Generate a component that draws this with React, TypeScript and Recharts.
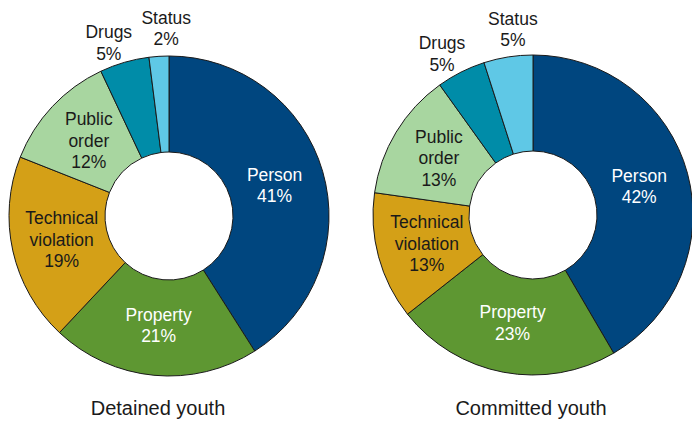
import { PieChart, Pie, Cell } from 'recharts';

const categories = ['Person', 'Property', 'Technical\nviolation', 'Public\norder', 'Drugs', 'Status'];
const detainedShare = [41, 21, 19, 12, 5, 2];
const committedShare = [42, 23, 13, 13, 5, 5];
const chartTitles = ['Detained youth', 'Committed youth'];

const sliceColors = ['#00467f', '#5e9732', '#d4a017', '#a8d6a0', '#008ca8', '#5fc8e6'];
const lightText = ['Person', 'Property'];
const RAD = Math.PI / 180;
const FONT = '"Liberation Sans", Arial, Helvetica, sans-serif';

const detainedData = categories.map((name, i) => ({ name, value: detainedShare[i] }));
const committedData = categories.map((name, i) => ({ name, value: committedShare[i] }));

function renderLabel(props: any) {
  const { cx, cy, midAngle, name, value } = props;
  let r = 110;
  let dx = 0;
  if (name === 'Drugs') {
    r = 180;
    dx = -10;
  } else if (name === 'Status') {
    r = 188;
    dx = 9;
  }
  const x = cx + r * Math.cos(-midAngle * RAD) + dx;
  const y = cy + r * Math.sin(-midAngle * RAD);
  const lines = [...name.split('\n'), `${value}%`];
  const lh = 21.5;
  const top = y - ((lines.length - 1) * lh) / 2;
  return (
    <text
      x={x}
      y={top}
      textAnchor="middle"
      dominantBaseline="central"
      fill={lightText.includes(name) ? '#ffffff' : '#1a1a1a'}
      fontSize={17.5}
      fontFamily={FONT}
    >
      {lines.map((l, i) => (
        <tspan key={i} x={x} y={top + i * lh}>
          {l}
        </tspan>
      ))}
    </text>
  );
}

export default function App() {
  return (
    <div style={{ position: 'absolute', left: 0, top: 0, width: 692, height: 421, background: '#fff' }}>
      <PieChart width={692} height={421} margin={{ top: 0, right: 0, bottom: 0, left: 0 }}>
        <Pie
          data={detainedData}
          dataKey="value"
          cx={169}
          cy={216}
          innerRadius={64}
          outerRadius={160}
          startAngle={90}
          endAngle={-270}
          stroke="#1a1a1a"
          strokeWidth={1}
          label={renderLabel}
          labelLine={false}
          isAnimationActive={false}
        >
          {detainedData.map((d, i) => (
            <Cell key={d.name} fill={sliceColors[i]} />
          ))}
        </Pie>
        <Pie
          data={committedData}
          dataKey="value"
          cx={533}
          cy={215}
          innerRadius={64}
          outerRadius={160}
          startAngle={90}
          endAngle={-270}
          stroke="#1a1a1a"
          strokeWidth={1}
          label={renderLabel}
          labelLine={false}
          isAnimationActive={false}
        >
          {committedData.map((d, i) => (
            <Cell key={d.name} fill={sliceColors[i]} />
          ))}
        </Pie>
      </PieChart>
      {chartTitles.map((t, i) => (
        <div
          key={t}
          style={{
            position: 'absolute',
            top: 395,
            left: i === 0 ? 58 : 431,
            width: 200,
            textAlign: 'center',
            fontFamily: FONT,
            fontSize: 20,
            color: '#1a1a1a',
            lineHeight: '26px',
          }}
        >
          {t}
        </div>
      ))}
    </div>
  );
}
